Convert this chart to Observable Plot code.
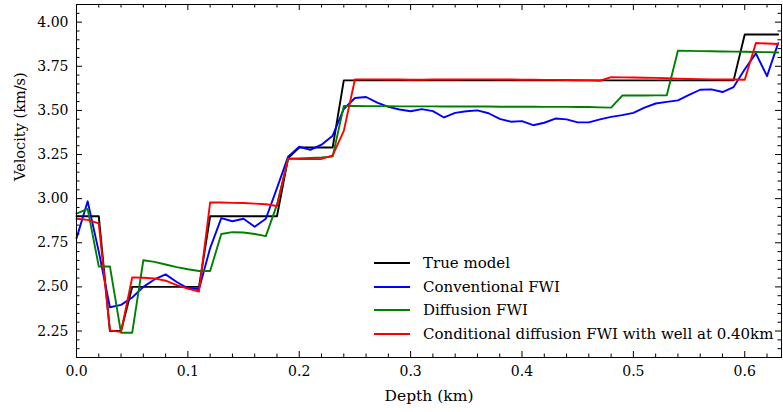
<!DOCTYPE html>
<html><head><meta charset="utf-8">
<script src="https://cdn.jsdelivr.net/npm/d3@7"></script>
<script src="https://cdn.jsdelivr.net/npm/@observablehq/plot@0.6"></script>
<style>
body{margin:0;background:#fff;}
#wrap{position:relative;width:783px;height:412px;font-family:"DejaVu Serif",serif;}
#legend{position:absolute;left:374px;top:251px;font-size:15px;color:#000;}
.row{display:flex;align-items:center;height:23.7px;white-space:nowrap;}
.sw{width:36px;height:0;border-top:2px solid;margin-right:13px;}
</style></head><body><div id="wrap"><div id="legend"></div></div>
<script>
const depth = [0.00,0.01,0.02,0.03,0.04,0.05,0.06,0.07,0.08,0.09,0.10,0.11,0.12,0.13,0.14,0.15,0.16,0.17,0.18,0.19,0.20,0.21,0.22,0.23,0.24,0.25,0.26,0.27,0.28,0.29,0.30,0.31,0.32,0.33,0.34,0.35,0.36,0.37,0.38,0.39,0.40,0.41,0.42,0.43,0.44,0.45,0.46,0.47,0.48,0.49,0.50,0.51,0.52,0.53,0.54,0.55,0.56,0.57,0.58,0.59,0.60,0.61,0.62,0.63];
const trueModel = [2.90,2.90,2.90,2.25,2.25,2.50,2.50,2.50,2.50,2.50,2.50,2.50,2.90,2.90,2.90,2.90,2.90,2.90,2.90,3.23,3.29,3.29,3.29,3.29,3.67,3.67,3.67,3.67,3.67,3.67,3.67,3.67,3.67,3.67,3.67,3.67,3.67,3.67,3.67,3.67,3.67,3.67,3.67,3.67,3.67,3.67,3.67,3.67,3.67,3.67,3.67,3.67,3.67,3.67,3.67,3.67,3.67,3.67,3.67,3.67,3.93,3.93,3.93,3.93];
const conventional = [2.775,2.985,2.70,2.385,2.398,2.44,2.50,2.542,2.571,2.528,2.492,2.488,2.72,2.89,2.872,2.886,2.841,2.886,3.06,3.238,3.294,3.276,3.306,3.357,3.508,3.57,3.576,3.544,3.52,3.505,3.495,3.507,3.496,3.46,3.486,3.495,3.50,3.484,3.452,3.436,3.439,3.416,3.43,3.454,3.449,3.432,3.432,3.449,3.463,3.473,3.486,3.516,3.539,3.548,3.557,3.588,3.617,3.619,3.604,3.632,3.733,3.823,3.694,3.881];
const diffusion = [2.915,2.942,2.616,2.616,2.24,2.24,2.651,2.642,2.627,2.612,2.60,2.59,2.59,2.80,2.81,2.808,2.80,2.788,2.966,3.225,3.228,3.23,3.233,3.238,3.525,3.525,3.524,3.524,3.524,3.523,3.523,3.523,3.523,3.522,3.522,3.522,3.522,3.522,3.521,3.521,3.521,3.521,3.520,3.520,3.520,3.519,3.519,3.517,3.516,3.584,3.584,3.584,3.585,3.586,3.838,3.837,3.836,3.835,3.834,3.833,3.832,3.831,3.830,3.828];
const conditional = [2.886,2.88,2.86,2.253,2.245,2.554,2.552,2.548,2.535,2.51,2.49,2.474,2.979,2.978,2.976,2.975,2.972,2.968,2.958,3.228,3.225,3.224,3.225,3.245,3.384,3.675,3.676,3.676,3.675,3.675,3.674,3.674,3.675,3.675,3.675,3.676,3.676,3.676,3.675,3.675,3.674,3.674,3.673,3.673,3.672,3.671,3.670,3.668,3.688,3.687,3.686,3.685,3.684,3.682,3.680,3.678,3.677,3.676,3.675,3.675,3.674,3.882,3.879,3.876,3.871].slice(0,64);

const seriesNames = ["True model","Conventional FWI","Diffusion FWI","Conditional diffusion FWI with well at 0.40km"];
const seriesColors = ["#000000","#0000ff","#008000","#ff0000"];
const xTicks = [0.0,0.1,0.2,0.3,0.4,0.5,0.6];
const xTickLabels = ["0.0","0.1","0.2","0.3","0.4","0.5","0.6"];
const xMinorTicks = [0.02,0.04,0.06,0.08,0.12,0.14,0.16,0.18,0.22,0.24,0.26,0.28,0.32,0.34,0.36,0.38,0.42,0.44,0.46,0.48,0.52,0.54,0.56,0.58,0.62];
const yTicks = [2.25,2.50,2.75,3.00,3.25,3.50,3.75,4.00];
const yTickLabels = ["2.25","2.50","2.75","3.00","3.25","3.50","3.75","4.00"];
const yMinorTicks = [2.10,2.15,2.20,2.30,2.35,2.40,2.45,2.55,2.60,2.65,2.70,2.80,2.85,2.90,2.95,3.05,3.10,3.15,3.20,3.30,3.35,3.40,3.45,3.55,3.60,3.65,3.70,3.80,3.85,3.90,3.95,4.05,4.10];
const xLabel = "Depth (km)";
const yLabel = "Velocity (km/s)";

const seriesValues = [trueModel, conventional, diffusion, conditional];
const rows = [];
seriesValues.forEach((vals, s) => depth.forEach((d, i) => rows.push({depth: d, v: vals[i], s: seriesNames[s]})));

const W = 783, H = 412, mL = 76, mR = 2, mT = 4, mB = 55;
const plotW = W - mL - mR, plotH = H - mT - mB;
const majorLen = 6, minorLen = 3.5;
const tk = {stroke: "#000", strokeWidth: 1};

const chart = Plot.plot({
  width: W, height: H, marginLeft: mL, marginRight: mR, marginTop: mT, marginBottom: mB,
  style: {fontFamily: '"DejaVu Serif", serif', fontSize: "14px", color: "#000", background: "#fff"},
  x: {domain: [0, 0.633]},
  y: {domain: [2.1, 4.1]},
  color: {domain: seriesNames, range: seriesColors},
  marks: [
    ...seriesNames.map(n => Plot.line(rows.filter(r => r.s === n), {x: "depth", y: "v", stroke: "s", strokeWidth: 1.9})),
    Plot.tickX(xTicks, {x: d => d, insetTop: plotH - majorLen, ...tk}),
    Plot.tickX(xTicks, {x: d => d, insetBottom: plotH - majorLen, ...tk}),
    Plot.tickX(xMinorTicks, {x: d => d, insetTop: plotH - minorLen, ...tk}),
    Plot.tickX(xMinorTicks, {x: d => d, insetBottom: plotH - minorLen, ...tk}),
    Plot.tickY(yTicks, {y: d => d, insetRight: plotW - majorLen, ...tk}),
    Plot.tickY(yTicks, {y: d => d, insetLeft: plotW - majorLen, ...tk}),
    Plot.tickY(yMinorTicks, {y: d => d, insetRight: plotW - minorLen, ...tk}),
    Plot.tickY(yMinorTicks, {y: d => d, insetLeft: plotW - minorLen, ...tk}),
    Plot.axisX(xTicks, {tickSize: 0, tickPadding: 9, tickFormat: d => xTickLabels[xTicks.indexOf(d)], label: null}),
    Plot.axisY(yTicks, {tickSize: 0, tickPadding: 8, tickFormat: d => yTickLabels[yTicks.indexOf(d)], label: null}),
    Plot.text([xLabel], {text: d => d, frameAnchor: "bottom", dy: 39, lineAnchor: "middle", fontSize: 15.5, fill: "#000"}),
    Plot.text([yLabel], {text: d => d, frameAnchor: "left", dx: -56, rotate: -90, lineAnchor: "middle", fontSize: 14.5, fill: "#000"}),
    Plot.frame({stroke: "#000", strokeWidth: 1})
  ]
});
const wrap = document.getElementById("wrap");
wrap.insertBefore(chart, wrap.firstChild);

const legend = document.getElementById("legend");
seriesNames.forEach((n, i) => {
  const row = document.createElement("div");
  row.className = "row";
  const sw = document.createElement("span");
  sw.className = "sw";
  sw.style.borderTopColor = seriesColors[i];
  const t = document.createElement("span");
  t.textContent = n;
  row.appendChild(sw); row.appendChild(t);
  legend.appendChild(row);
});
</script>
</body></html>
